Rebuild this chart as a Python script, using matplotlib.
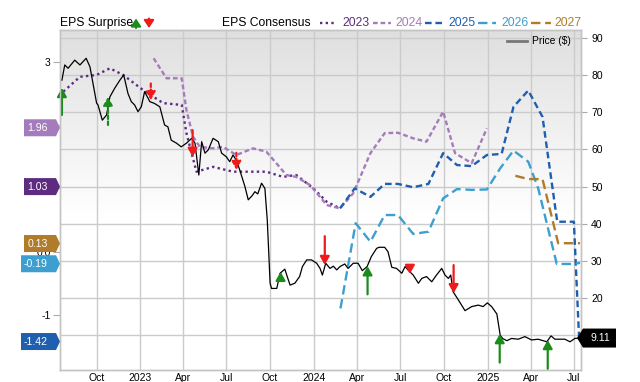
import numpy as np
import matplotlib.pyplot as plt
import matplotlib.dates as mdates
import matplotlib.transforms as mtransforms
from matplotlib.patches import Polygon
from matplotlib.lines import Line2D
from matplotlib.colors import LinearSegmentedColormap

plt.rcParams['font.family'] = ['Liberation Sans', 'DejaVu Sans']

# 股价 (右轴)
price_dates = ['2022-07-20', '2022-07-26', '2022-08-02', '2022-08-16', '2022-08-27', '2022-09-09', '2022-09-17',
               '2022-10-01', '2022-10-04', '2022-10-13', '2022-10-22', '2022-10-29', '2022-11-08', '2022-11-19',
               '2022-11-27', '2022-12-06', '2022-12-13', '2022-12-20', '2022-12-27', '2023-01-03', '2023-01-10',
               '2023-01-21', '2023-01-31', '2023-02-11', '2023-02-21', '2023-02-28', '2023-03-07', '2023-03-18',
               '2023-03-28', '2023-04-08', '2023-04-19', '2023-04-26', '2023-05-04', '2023-05-10', '2023-05-17',
               '2023-05-24', '2023-06-03', '2023-06-14', '2023-06-21', '2023-07-01', '2023-07-08', '2023-07-15',
               '2023-07-22', '2023-07-29', '2023-08-09', '2023-08-16', '2023-08-24', '2023-08-30', '2023-09-05',
               '2023-09-13', '2023-09-20', '2023-09-25', '2023-10-01', '2023-10-04', '2023-10-15', '2023-10-22',
               '2023-11-01', '2023-11-06', '2023-11-12', '2023-11-22', '2023-12-02', '2023-12-08', '2023-12-17',
               '2023-12-27', '2024-01-07', '2024-01-14', '2024-01-19', '2024-01-26', '2024-02-04', '2024-02-11',
               '2024-02-18', '2024-02-25', '2024-03-06', '2024-03-13', '2024-03-24', '2024-04-03', '2024-04-12',
               '2024-04-22', '2024-05-01', '2024-05-12', '2024-05-17', '2024-05-29', '2024-06-05', '2024-06-13',
               '2024-06-23', '2024-07-04', '2024-07-11', '2024-07-17', '2024-07-28', '2024-08-08', '2024-08-15',
               '2024-08-25', '2024-09-05', '2024-09-15', '2024-09-26', '2024-10-03', '2024-10-10', '2024-10-15',
               '2024-10-20', '2024-10-31', '2024-11-14', '2024-11-28', '2024-12-12', '2024-12-22', '2024-12-31',
               '2025-01-09', '2025-01-20', '2025-01-27', '2025-02-01', '2025-02-10', '2025-02-20', '2025-03-06',
               '2025-03-20', '2025-04-03', '2025-04-17', '2025-05-05', '2025-05-14', '2025-05-22', '2025-06-02',
               '2025-06-12', '2025-06-23', '2025-07-03', '2025-07-12']
price = [78.7, 82.8, 81.9, 84.1, 82.8, 84.6, 82.3, 72.5, 72.0, 67.9, 69.3, 74.2, 76.5, 78.7, 80.1, 75.1, 72.9,
         72.0, 70.2, 71.5, 75.6, 72.9, 72.4, 71.5, 66.6, 66.1, 62.5, 61.7, 60.7, 61.7, 63.0, 61.7, 53.1, 62.1,
         59.0, 59.9, 63.0, 62.1, 59.0, 58.0, 56.7, 58.5, 57.1, 54.5, 50.0, 46.4, 47.5, 48.6, 48.0, 50.9, 49.5,
         41.0, 23.9, 22.5, 22.5, 26.6, 27.7, 25.7, 23.4, 23.9, 25.7, 28.4, 30.2, 30.2, 29.3, 27.9, 26.1, 29.3,
         27.9, 28.5, 27.5, 28.4, 29.1, 27.9, 29.3, 29.3, 27.3, 28.4, 31.1, 33.3, 33.6, 33.6, 32.4, 28.2, 27.9,
         26.6, 28.4, 27.5, 26.1, 23.9, 25.2, 25.7, 24.3, 26.1, 27.9, 26.1, 25.2, 26.1, 21.6, 19.4, 16.5, 17.6,
         18.0, 17.6, 18.6, 17.6, 15.6, 9.9, 9.0, 8.4, 9.0, 8.8, 9.5, 8.6, 8.8, 8.1, 9.7, 8.8, 8.8, 8.8, 8.1,
         9.0, 9.11]

# EPS 一致预期 (按图上位置读取)
c2023_dates = ['2022-07-23', '2022-08-27', '2022-10-01', '2022-10-29', '2022-11-26', '2023-01-07', '2023-02-18',
               '2023-03-29', '2023-04-08', '2023-04-29', '2023-06-03', '2023-07-15', '2023-08-19', '2023-09-23',
               '2023-10-28', '2023-11-25', '2023-12-31', '2024-01-28', '2024-02-25']
c2023 = [75.6, 79.6, 80.1, 81.9, 80.1, 76.0, 72.5, 72.0, 64.4, 54.0, 55.3, 54.0, 54.0, 54.0, 52.6, 53.1, 49.5,
         45.9, 44.1]
c2024_dates = ['2023-01-29', '2023-02-25', '2023-03-29', '2023-04-08', '2023-04-22', '2023-05-06', '2023-06-03',
               '2023-06-24', '2023-07-22', '2023-08-26', '2023-09-23', '2023-10-14', '2023-11-04', '2023-11-25',
               '2023-12-24', '2024-01-14', '2024-01-28', '2024-02-25', '2024-03-24', '2024-04-29', '2024-05-29',
               '2024-06-26', '2024-07-28', '2024-08-25', '2024-09-29', '2024-10-24', '2024-11-28', '2024-12-30']
c2024 = [84.6, 79.2, 79.2, 70.6, 63.4, 60.7, 60.3, 60.7, 58.5, 60.3, 59.4, 56.3, 53.1, 52.6, 50.4, 47.2, 45.0,
         44.1, 48.2, 59.0, 64.4, 64.5, 63.0, 62.1, 70.2, 59.0, 56.3, 65.7]
c2025_dates = ['2024-02-25', '2024-03-27', '2024-04-29', '2024-05-29', '2024-06-26', '2024-07-28', '2024-08-29',
               '2024-09-29', '2024-10-28', '2024-11-28', '2024-12-30', '2025-01-30', '2025-02-24', '2025-03-27',
               '2025-04-26', '2025-05-27', '2025-07-01', '2025-07-12']
c2025 = [44.1, 49.5, 47.2, 50.7, 50.7, 49.8, 50.7, 59.0, 55.8, 55.5, 58.5, 58.8, 71.5, 75.9, 68.8, 40.5, 40.5, 9.1]
c2026_dates = ['2024-02-26', '2024-03-29', '2024-04-29', '2024-05-29', '2024-06-26', '2024-07-28', '2024-08-29',
               '2024-09-29', '2024-10-28', '2024-11-28', '2024-12-30', '2025-01-27', '2025-02-24', '2025-03-27',
               '2025-04-17', '2025-05-26', '2025-07-01', '2025-07-14']
c2026 = [17.1, 40.1, 35.1, 42.3, 42.3, 37.2, 37.8, 46.8, 49.3, 49.1, 49.2, 54.9, 59.7, 56.7, 49.5, 29.1, 29.1, 29.4]
c2027_dates = ['2025-02-28', '2025-03-27', '2025-04-26', '2025-05-29', '2025-07-14']
c2027 = [52.9, 52.0, 52.0, 34.7, 34.7]

# EPS surprise 箭头: 箭头尖端价格, 长度(正=向上绿色, 负=向下红色), 是否虚线
surprise_dates = ['2022-07-20', '2022-10-25', '2023-01-23', '2023-04-21', '2023-07-22', '2023-10-23',
                  '2024-01-24', '2024-04-23', '2024-07-21', '2024-10-21', '2025-01-26', '2025-05-07']
surprise_tip = [76.6, 74.2, 73.3, 58.0, 54.5, 27.0, 28.8, 28.5, 26.4, 21.2, 10.2, 8.6]
surprise_len = [7.3, 7.6, -4.5, -7.2, -4.6, 2.2, -7.8, 7.6, -2.2, -7.6, 7.7, 7.8]
surprise_dashed = [False, True, True, False, True, False, False, False, False, False, False, False]

# 左侧标签 (最新一致预期)
eps_tags = ['1.96', '1.03', '0.13', '-0.19', '-1.42']
years = ['2023', '2024', '2025', '2026', '2027']
colors = ['#5d2c80', '#a57cbb', '#1f5fae', '#3c9fd0', '#b07b2b']
tag_colors = ['#a57cbb', '#5d2c80', '#b07b2b', '#3c9fd0', '#1f5fae']
dashes = [(1, 1.4), (2, 1.2), (2.8, 1.6), (4, 2), (4, 2)]

d = lambda s: np.array(s, dtype='datetime64[D]')

fig = plt.figure(figsize=(6.4, 3.82), dpi=100)
rect = [60 / 640, 12 / 382, 521 / 640, 340 / 382]

# 渐变背景
bgax = fig.add_axes(rect, zorder=-1)
bg = LinearSegmentedColormap.from_list('bg', [(0, '#ffffff'), (0.45, '#ffffff'), (1, '#dfdfdf')])
bgax.imshow(np.linspace(0, 1, 256).reshape(-1, 1), cmap=bg, aspect='auto', origin='lower', extent=[0, 1, 0, 1])
bgax.axis('off')

ax = fig.add_axes(rect)
ax.patch.set_alpha(0)

series = [(c2023_dates, c2023), (c2024_dates, c2024), (c2025_dates, c2025), (c2026_dates, c2026),
          (c2027_dates, c2027)]
for (xs, ys), col, ds in zip(series, colors, dashes):
    ax.plot(d(xs), ys, color=col, lw=1.7, dashes=ds, zorder=3)

ax.plot(d(price_dates), price, color='black', lw=0.9, zorder=4)

for dt, tip, ln, dsh in zip(surprise_dates, surprise_tip, surprise_len, surprise_dashed):
    col = '#1a8c1a' if ln > 0 else '#ef1a1a'
    ax.annotate('', xy=(d(dt), tip), xytext=(d(dt), tip - ln),
                arrowprops=dict(arrowstyle='-|>,head_width=0.28,head_length=0.5', color=col, lw=1.6,
                                linestyle=(0, (1.6, 1.1)) if dsh else '-', shrinkA=0, shrinkB=0), zorder=5)

ax.set_xlim(d('2022-07-16'), d('2025-07-16'))
ax.set_ylim(0.49, 92.23)
ax.xaxis.set_major_locator(mdates.MonthLocator(bymonth=[1, 4, 7, 10]))


def fmt(x, pos):
    dt = mdates.num2date(x)
    return str(dt.year) if dt.month == 1 else dt.strftime('%b')


ax.xaxis.set_major_formatter(plt.FuncFormatter(fmt))
ax.grid(True, color='#cbcbcb', lw=1.0)
ax.set_axisbelow(True)

ax2 = ax.twinx()
ax2.set_ylim(-1.87, 3.506)
ax2.set_yticks([3, 2, 1, 0, -1])
ax2.set_yticklabels(['3', '', '', '0.0', '-1'])
ax2.yaxis.tick_left()
ax2.tick_params(axis='y', length=4.8, width=0.8, color='#aaaaaa', pad=2, labelsize=7.5)

# twinx 会把原轴刻度移到左边, 这里再移回右边
ax.yaxis.tick_right()
ax.set_yticks(range(10, 100, 10))
ax.set_yticklabels([''] + [str(v) for v in range(20, 100, 10)])
ax.tick_params(axis='x', length=0, pad=2, labelsize=7.5)
ax.tick_params(axis='y', length=4.3, width=0.8, color='#aaaaaa', pad=3, labelsize=7.5)

for a in (ax, ax2):
    for sp in a.spines.values():
        sp.set_color('#c4c4c4')
        sp.set_linewidth(1.0)

# 左侧 EPS 标签
blend = mtransforms.blended_transform_factory(ax2.transAxes, ax2.transData)
hh = 8.5 / 340 * (3.506 + 1.87)
for lab, col in zip(eps_tags, tag_colors):
    v = float(lab)
    left = ((21 if len(lab) > 4 else 24) - 60) / 521
    br = -4 / 521
    poly = Polygon([(left, v - hh), (br, v - hh), (0, v), (br, v + hh), (left, v + hh)], closed=True,
                   facecolor=col, edgecolor='none', transform=blend, clip_on=False, zorder=10)
    ax2.add_patch(poly)
    ax2.text((47.5 - 60) / 521, v, lab, color='white', fontsize=7.6, ha='right', va='center',
             transform=blend, clip_on=False, zorder=11)

# 右侧最新价格标签
blend_p = mtransforms.blended_transform_factory(ax.transAxes, ax.transData)
last = price[-1]
hp = 9.5 / 340 * (92.23 - 0.49)
tip_x, bl, rr = (577 - 60) / 521, (583 - 60) / 521, (616 - 60) / 521
ax2.add_patch(Polygon([(tip_x, last), (bl, last - hp), (rr, last - hp), (rr, last + hp), (bl, last + hp)],
                      closed=True, facecolor='black', edgecolor='none', transform=blend_p, clip_on=False,
                      zorder=10))
ax2.text((600 - 60) / 521, last, f'{last:.2f}', color='white', fontsize=7.6, ha='center', va='center',
         transform=blend_p, clip_on=False, zorder=11)

# 顶部图例
W, H = 640, 382
fy = lambda y: 1 - y / H
fig.text(60 / W, fy(23), 'EPS Surprise', fontsize=8.7, va='center', ha='left')
fig.add_artist(plt.Annotation('', xy=(136 / W, fy(18.5)), xytext=(136 / W, fy(28)), xycoords='figure fraction',
                              arrowprops=dict(arrowstyle='-|>,head_width=0.3,head_length=0.45', color='#1a8c1a',
                                              lw=1.5, shrinkA=0, shrinkB=0)))
fig.add_artist(plt.Annotation('', xy=(149 / W, fy(28)), xytext=(149 / W, fy(18.5)), xycoords='figure fraction',
                              arrowprops=dict(arrowstyle='-|>,head_width=0.3,head_length=0.45', color='#ef1a1a',
                                              lw=1.5, shrinkA=0, shrinkB=0)))
fig.text(222 / W, fy(23), 'EPS Consensus', fontsize=8.7, va='center', ha='left')
leg_x = [(320, 337, 342), (373, 391, 395), (425, 445, 448), (478, 496, 501), (531, 551, 554)]
for (x0, x1, tx), yr, col, ds in zip(leg_x, years, colors, dashes):
    fig.add_artist(Line2D([x0 / W, x1 / W], [fy(23), fy(23)], color=col, lw=1.7, dashes=ds,
                          transform=fig.transFigure))
    fig.text(tx / W, fy(23), yr, color=col, fontsize=8.7, va='center', ha='left')

fig.add_artist(Line2D([507 / W, 527 / W], [fy(40.7), fy(40.7)], color='#777777', lw=2, transform=fig.transFigure))
fig.text(532 / W, fy(41), 'Price ($)', fontsize=7.4, va='center', ha='left')

fig.savefig('out.png', dpi=100)
